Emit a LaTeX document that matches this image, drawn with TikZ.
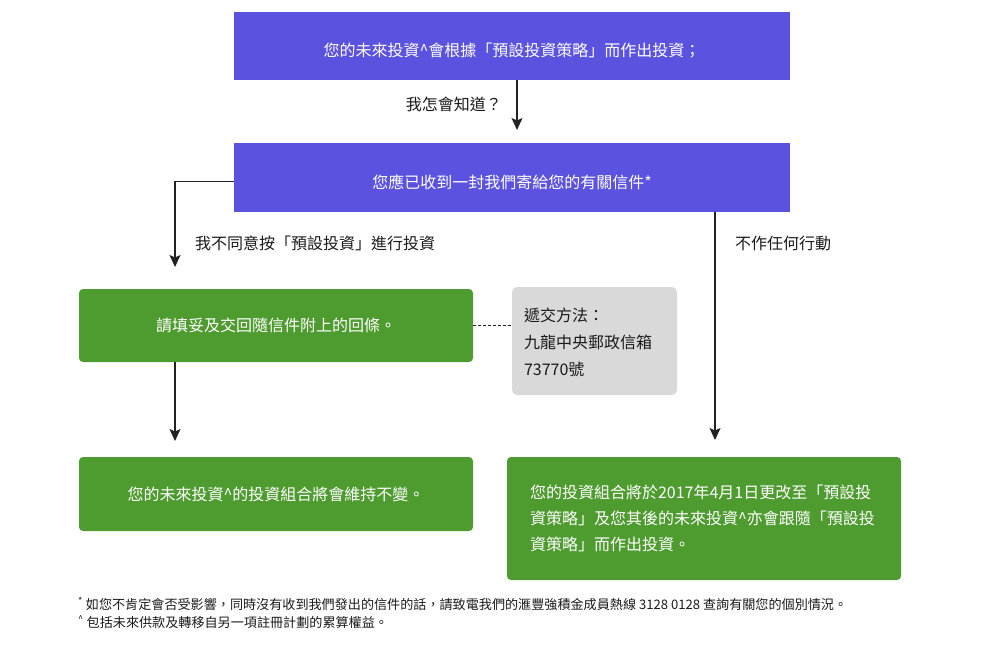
\documentclass[tikz,border=0pt]{standalone}
\usepackage{fontspec}
\setmainfont{Noto Sans CJK TC}
\usetikzlibrary{arrows.meta}

\definecolor{planpurple}{HTML}{5B52DF}
\definecolor{plangreen}{HTML}{4E9B2F}
\definecolor{notegray}{HTML}{D9D9D9}
\definecolor{inkline}{HTML}{222222}
\definecolor{inktext}{HTML}{1A1A1A}

%% 紫框文字略低於中線
\newcommand{\dn}[1]{\raisebox{-5pt}[\height][\depth]{#1}}

\begin{document}
\begin{tikzpicture}[x=1pt, y=-1pt,
  pbox/.style={fill=planpurple, text=white, minimum width=556pt, inner sep=0pt, font=\fontsize{16}{26}\selectfont},
  gbox/.style={fill=plangreen, text=white, rounded corners=4pt, minimum width=394pt, inner sep=0pt, font=\fontsize{16}{26}\selectfont},
  greybox/.style={fill=notegray, text=inktext, rounded corners=5pt, inner sep=0pt, font=\fontsize{16}{26.5}\selectfont},
  lbl/.style={text=inktext, inner sep=0pt, font=\fontsize{16}{26}\selectfont},
  note/.style={text=inktext, inner sep=0pt, anchor=west, font=\fontsize{13.1}{18}\selectfont},
  flow/.style={draw=inkline, line width=1.1pt, -{Stealth[length=12pt,width=11pt,inset=2.5pt]}},
  dotline/.style={draw=inkline, line width=0.8pt, dash pattern=on 3pt off 2pt}]

  %% ════ 方框 ════
  \node[pbox, minimum height=68pt] (rule) at (512,46) {\dn{您的未來投資\textasciicircum 會根據「預設投資策略」而作出投資；}};
  \node[pbox, minimum height=69pt] (letter) at (512,177.5) {\dn{您應已收到一封我們寄給您的有關信件*}};
  \node[gbox, minimum height=73pt] (reply) at (276,325.5) {請填妥及交回隨信件附上的回條。};
  \node[greybox, minimum width=165pt, minimum height=108pt, align=left, text width=141pt] (post) at (594.5,341) {\raisebox{-2pt}[\height][\depth]{\begin{tabular}[c]{@{}l@{}}遞交方法：\\[0.3pt]九龍中央郵政信箱\\[0.3pt]73770號\end{tabular}}};
  \node[gbox, minimum height=74pt] (keep) at (276,494) {您的未來投資\textasciicircum 的投資組合將會維持不變。};
  \node[gbox, minimum height=123pt, align=left, text width=348pt] (switch) at (704,518.5) {您的投資組合將於2017年4月1日更改至「預設投\\資策略」及您其後的未來投資\textasciicircum 亦會跟隨「預設投\\資策略」而作出投資。};

  %% ════ 連線 ════
  \coordinate (askend) at (517,130);
  \coordinate (optout) at (175,267);
  \coordinate (idle) at (715,440);
  \coordinate (keepin) at (175,441);
  \draw[flow] (rule.south -| askend) -- (askend);
  \draw[flow] ([yshift=-4.2pt]letter.west) -| (optout);
  \draw[flow] (letter.south -| idle) -- (idle);
  \draw[flow] (reply.south -| keepin) -- (keepin);
  \draw[dotline] (reply.east) -- (reply.east -| post.west);

  %% ════ 標籤 ════
  \node[lbl, anchor=east] (ask) at (502,104) {我怎會知道？};
  \node[lbl, anchor=west] (disagree) at (195,243) {我不同意按「預設投資」進行投資};
  \node[lbl, anchor=west] (noact) at (735,243) {不作任何行動};

  %% ════ 註腳 ════
  \node[note] (star) at (78,604) {\textsuperscript{*} 如您不肯定會否受影響，同時沒有收到我們發出的信件的話，請致電我們的滙豐強積金成員熱線 3128 0128 查詢有關您的個別情況。};
  \node[note] (caret) at (78,622) {\textsuperscript{\textasciicircum} 包括未來供款及轉移自另一項註冊計劃的累算權益。};

  % 固定畫布
  \pgfresetboundingbox
  \path[use as bounding box] (0,0) rectangle (981,669);
\end{tikzpicture}
\end{document}
